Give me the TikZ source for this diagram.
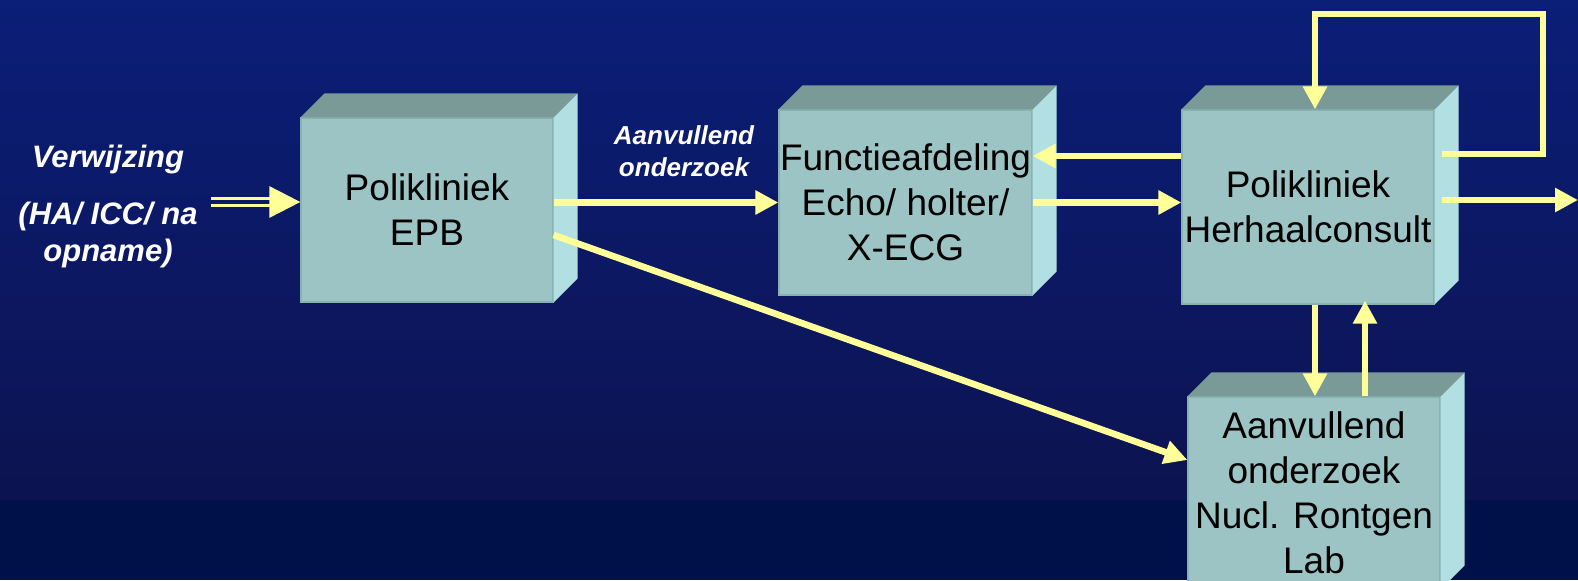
\documentclass[tikz,border=0pt]{standalone}
\usepackage{fontspec}
\setmainfont{Liberation Sans}
\usetikzlibrary{arrows.meta,positioning}

\definecolor{bgboven}{HTML}{0B1E78}
\definecolor{bgonder}{HTML}{0C1350}
\definecolor{bgband}{HTML}{001049}
\definecolor{geel}{HTML}{FFFF99}
\definecolor{voorkant}{HTML}{9CC4C4}
\definecolor{bovenkant}{HTML}{7A9A98}
\definecolor{zijkant}{HTML}{B2E0E2}
\definecolor{rand}{HTML}{88B2B2}

\tikzset{
	blok/.style={fill=voorkant, draw=rand, line width=0.6pt, inner sep=0pt, align=center,
		minimum width=126pt, font=\fontsize{18.5}{22.5}\selectfont},
	pijl/.style={draw=geel, line width=3.3pt, -{Triangle[length=11.5pt,width=11.5pt]}},
	tekst/.style={text=white, align=center, font=\fontsize{13}{16}\selectfont\bfseries\itshape},
}

\begin{document}
\begin{tikzpicture}[x=0.5pt,y=-0.5pt]
			\useasboundingbox (0,0) rectangle (1578,580);
			\clip (0,0) rectangle (1578,580);
			\shade[top color=bgboven, bottom color=bgonder] (0,0) rectangle (1578,500);
			\fill[bgband] (0,500) rectangle (1578,580);
			% blokken
			\node[blok, minimum height=92pt] (epb) at (427,210) {Polikliniek\\EPB};
			\node[blok, minimum width=126.5pt, minimum height=92.5pt] (func) at (905.5,202.5) {Functieafdeling\\Echo/ holter/\\X-ECG};
			\node[blok, minimum height=97pt] (herh) at (1308,207) {Polikliniek\\Herhaalconsult};
			\node[blok, minimum height=96pt] (aanv) at (1314,493) {Aanvullend\\onderzoek\\Nucl. Rontgen\\Lab};
			\foreach \n in {epb,func,herh,aanv} {
				\fill[bovenkant] (\n.north west) -- ([shift={(24,-24)}]\n.north west) -- ([shift={(24,-24)}]\n.north east) -- (\n.north east) -- cycle;
				\fill[zijkant] (\n.north east) -- ([shift={(24,-24)}]\n.north east) -- ([shift={(24,-24)}]\n.south east) -- (\n.south east) -- cycle;
			}
			% teksten
			\node[tekst, font=\fontsize{15.5}{18.5}\selectfont\bfseries\itshape] (verw) at (108,206) {Verwijzing\\[10pt](HA/ ICC/ na\\opname)};
			\node[tekst] (onderz) at (684,151) {Aanvullend\\onderzoek};
			% pijlen
			\coordinate (inkomst) at (211,202);
			\coordinate (uit) at (1578,200);
			\coordinate (lus) at (1543,14);
			\draw[draw=geel, line width=1.4pt, double=bgboven!55!bgonder, double distance=2.25pt, -{Triangle[length=15.5pt,width=15.5pt]}] (inkomst) -- ([shift={(0,-8)}]epb.west);
			\draw[pijl] (epb.east |- func.west) -- (func.west);
			\draw[pijl] ([shift={(0,25)}]epb.east) -- ([shift={(0,-33)}]aanv.west);
			\draw[pijl] ([shift={(0,-51)}]herh.west) -- ([shift={(0,-46.5)}]func.east);
			\draw[pijl] (func.east) -- (func.east -| herh.west);
			\draw[pijl] ([shift={(7,-53)}]herh.east) -| (lus) -| ([shift={(7,0)}]herh.north);
			\draw[pijl] ([shift={(7,-7)}]herh.east) -- (uit);
			\draw[pijl] ([shift={(7,0)}]herh.south) -- ([shift={(1,0)}]aanv.north);
			\draw[pijl] ([shift={(51,0)}]aanv.north) -- ([shift={(57,-4)}]herh.south);
		\end{tikzpicture}
\end{document}
